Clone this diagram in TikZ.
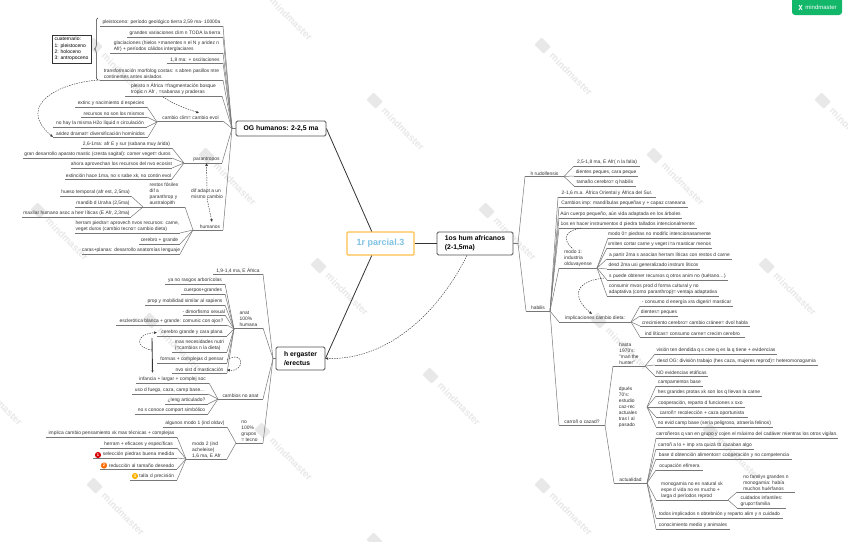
\documentclass[tikz,border=0pt]{standalone}
\usepackage{fontspec}
\setmainfont{Liberation Sans}
\usepackage{xcolor}
\usetikzlibrary{arrows.meta,decorations.pathreplacing}
\definecolor{ink}{HTML}{333333}
\definecolor{linegray}{HTML}{777777}
\definecolor{wmgray}{HTML}{E8E8E8}
\definecolor{brandgreen}{HTML}{12B76A}
\definecolor{rootorange}{HTML}{FFC04D}
\definecolor{rootblue}{HTML}{7FC1E3}
\begin{document}
\begin{tikzpicture}[x=1pt,y=-1pt]
    \tikzset{
      leafl/.style={anchor=south east,inner xsep=0pt,inner ysep=1.2pt,outer sep=0pt,align=left,text=ink,font=\fontsize{4.9}{6}\selectfont,
        append after command={(\tikzlastnode.south west) edge[link] (\tikzlastnode.south east)}},
      leafr/.style={leafl,anchor=south west},
      plain/.style={inner sep=0pt,align=left,text=ink,font=\fontsize{4.9}{6}\selectfont},
      mainbox/.style={rounded corners=1.5pt,draw=ink!85,line width=0.8pt,fill=white,align=left,text=black,font=\fontsize{6.8}{9}\selectfont\bfseries},
      rootbox/.style={rounded corners=1pt,draw=rootorange,line width=1.2pt,fill=white,text=rootblue,font=\fontsize{9}{11}\selectfont\bfseries},
      notebox/.style={draw=ink,line width=0.5pt,fill=white,align=left,inner sep=2.5pt,font=\fontsize{5}{6.2}\selectfont},
      badge/.style={circle,inner sep=0pt,minimum size=6.2pt,text=white,font=\fontsize{4}{4}\selectfont\bfseries},
      link/.style={draw=linegray,line width=0.5pt},
      trunk/.style={draw=ink,line width=0.8pt},
      rel/.style={draw=ink,line width=0.45pt,dash pattern=on 1.4pt off 1.1pt,-{Latex[length=2.8pt,width=2.6pt]}},
      water/.style={rotate=-45,anchor=west,text=wmgray,font=\fontsize{9.8}{10}\selectfont\bfseries}
    }
    \useasboundingbox (0,0) rectangle (848,541);
    \fill[white] (0,0) rectangle (848,541);
    % watermark
    \foreach \wmx/\wmy [count=\wmn] in {33/205,201/150,369/95,537/40,-79/95,89/40,257/-15,145/315,313/260,481/205,649/150,817/95,-33/370,257/425,425/370,593/315,761/260,
      -145/260,369/535,537/480,705/425,89/480} {
      \node[water] (wm\wmn) at (\wmx+12,\wmy+12) {mindmaster};
      \fill[wmgray,rounded corners=1pt,rotate around={-45:(\wmx+6,\wmy+6)}] (\wmx-1,\wmy+1) rectangle (\wmx+12,\wmy+11);
    }
    % logo
    \fill[brandgreen,rounded corners=3pt] (792,-6) rectangle (842,15);
    \node[inner sep=0pt,text=white,font=\fontsize{6}{6}\selectfont] (brand) at (821,7.5) {mindmaster};
    \draw[white,line width=0.8pt] (799,5) -- (802,10) (802,5) -- (799,10);
    % main nodes
    \node[rootbox,minimum width=67pt,minimum height=23pt] (root) at (380.5,243.5) {1r parcial.3};
    \node[mainbox,minimum width=90pt,minimum height=15pt,align=center] (og) at (281,128.5) {OG humanos: 2-2,5 ma};
    \node[mainbox,minimum width=76pt,minimum height=23pt] (afr) at (475,243.5) {1os hum africanos\\(2-1,5ma)};
    \node[mainbox,minimum width=49pt,minimum height=23pt] (erg) at (300.5,358.5) {h ergaster\\/erectus};
    \draw[trunk] (root.126) -- (og.east);
    \draw[trunk] (root.234) -- (erg.east);
    \draw[trunk] (root.east) -- (afr.west);
    \coordinate (ogj) at (232,128.5);
    \coordinate (ergj) at (273,358.5);
    \coordinate (afrj) at (518,243.5);
    \draw[link] (og.west) -- (ogj);
    \draw[link] (erg.west) -- (ergj);
    \draw[link] (afr.east) -- (afrj);
    % OG humanos
    \node[leafl,minimum width=123pt] (pleist) at (223,26) {pleistoceno: período geológico tierra 2,59 ma- 10000a};
    \node[leafl,minimum width=96pt] (clima) at (223,37) {grandes variaciones clim n TODA la tierra};
    \node[leafl,minimum width=113pt] (glaci) at (223,53) {glaciaciones (hielos ×manentes n el N y aridez n\\Afr) + períodos cálidos interglaciares};
    \node[leafl,minimum width=56pt] (oscil) at (223,63) {1,8 ma: + oscilaciones};
    \node[leafl,minimum width=123pt] (costas) at (223,80) {transformación morfolog costas: s abren pasillos ntre\\continentes antes aislados};
    \node[leafl,minimum width=97pt] (tropic) at (222,96) {pleisto n África =fragmentación bosque\\tropic n Afr ,  =sabanas y praderas};
    \node[leafl,minimum width=65pt] (evol) at (223,121) {cambio clim= cambio evol};
    \node[leafl,minimum width=72pt] (extin) at (147,107) {extinc y nacimiento d especies};
    \node[leafl,minimum width=66pt] (recur) at (147,117) {recursos no son los mismos};
    \node[leafl,minimum width=94pt] (agua) at (147,127) {no hay la misma H2o líquid n circulación};
    \node[leafl,minimum width=95pt] (aridez) at (148,137) {aridez dramat= diversificación homínidos};
    \node[leafl,minimum width=31pt] (par) at (222,163) {parantropos};
    \node[leafl,minimum width=91pt] (par1) at (172,148) {2,6-1ma: afr E y sur (sabana muy árida)};
    \node[leafl,minimum width=149pt] (par2) at (172,158) {gran desarrollo aparato mastic (cresta sagital): comer veget= duros};
    \node[leafl,minimum width=101pt] (par3) at (172,168) {ahora aprovechan los recursos del nvo ecosist};
    \node[leafl,minimum width=107pt] (par4) at (172,179) {extinción hace 1ma, no s sabe xk, no contin evol};
    \node[leafl,minimum width=26pt] (hum) at (223,230) {humanos};
    \node[leafl,minimum width=42pt] (restos) at (185,207) {restos fósiles\\dif a\\paranthrop y\\australopith};
    \node[leafl,minimum width=71pt] (hueso) at (131,196) {hueso temporal (afr est, 2,5ma)};
    \node[leafl,minimum width=56pt] (mandib) at (131,207) {mandib d Uraha (2,5ma)};
    \node[leafl,minimum width=109pt] (maxilar) at (131,217) {maxilar humano asoc a herr líticas (E Afr, 2,3ma)};
    \node[leafl,minimum width=105pt] (herram) at (180,233) {herram piedra= aprovech nvos recursos: carne,\\veget duros (cambio tecno= cambio dieta)};
    \node[leafl,minimum width=41pt] (cereb) at (180,244) {cerebro + grande};
    \node[leafl,minimum width=98pt] (caras) at (180,254) {caras+planas: desarrollo anatomías lenguaje};
    \node[plain] (difad) at (207,193.5) {dif adapt a un\\mismo cambio};
    \coordinate (evolj) at (157,122);
    \coordinate (parj) at (184,163);
    \coordinate (humj) at (193,230);
    \coordinate (restj) at (143,207);
    \draw[link] (pleist.south east) -- (ogj);
    \draw[link] (clima.south east) -- (ogj);
    \draw[link] (glaci.south east) -- (ogj);
    \draw[link] (oscil.south east) -- (ogj);
    \draw[link] (costas.south east) -- (ogj);
    \draw[link] (tropic.south east) -- (ogj);
    \draw[link] (evol.south east) -- (ogj);
    \draw[link] (par.south east) -- (ogj);
    \draw[link] (hum.south east) -- (ogj);
    \draw[link] (extin.south east) -- (evolj);
    \draw[link] (recur.south east) -- (evolj);
    \draw[link] (agua.south east) -- (evolj);
    \draw[link] (aridez.south east) -- (evolj);
    \draw[link] (evolj) -- (evol.south west);
    \draw[link] (par1.south east) -- (parj);
    \draw[link] (par2.south east) -- (parj);
    \draw[link] (par3.south east) -- (parj);
    \draw[link] (par4.south east) -- (parj);
    \draw[link] (parj) -- (par.south west);
    \draw[link] (restos.south east) -- (humj);
    \draw[link] (herram.south east) -- (humj);
    \draw[link] (cereb.south east) -- (humj);
    \draw[link] (caras.south east) -- (humj);
    \draw[link] (humj) -- (hum.south west);
    \draw[link] (hueso.south east) -- (restj);
    \draw[link] (mandib.south east) -- (restj);
    \draw[link] (maxilar.south east) -- (restj);
    % ergaster
    \node[leafl,minimum width=50pt] (edad) at (263,274) {1,9-1,4 ma, E África};
    \node[leafl,minimum width=29pt] (anat) at (263,328) {anat\\100\%\\humana};
    \node[leafl,minimum width=60pt] (arbor) at (225,284) {ya no rasgos arborícolas};
    \node[leafl,minimum width=44pt] (cuerpo) at (225,294) {cuerpos+grandes};
    \node[leafl,minimum width=80pt] (prop) at (225,305) {prop y mobilidad similar al sapiens};
    \node[leafl,minimum width=42pt] (dimorf) at (225,315) {- dimorfismo sexual};
    \node[leafl,minimum width=111pt] (escler) at (227,325) {esclerótica blanca + grande: comunic con ojos?};
    \node[leafl,minimum width=70pt] (cerpl) at (227,336) {cerebro grande y cara plana};
    \node[leafl,minimum width=55pt] (nutri) at (227,352) {mas necesidades nutri\\(=cambios n la dieta)};
    \node[leafl,minimum width=70pt] (formas) at (227,363) {formas + complejas d pensar};
    \node[leafl,minimum width=55pt] (mastic) at (227,373) {nvo sist d masticación};
    \node[leafl,minimum width=45pt] (noanat) at (263,399) {cambios no anat};
    \node[leafl,minimum width=73pt] (infan) at (209,383) {infancia + largar + complej soc};
    \node[leafl,minimum width=76pt] (fuego) at (208,394) {uso d fuego, caza, camp base…};
    \node[leafl,minimum width=43pt] (leng) at (208,404) {¿leng articulado?};
    \node[leafl,minimum width=73pt] (simbol) at (208,414) {no s conoce comport simbólico};
    \node[leafl,minimum width=27pt] (tecno) at (263,443) {no\\100\%\\grupos\\= tecno};
    \node[leafl,minimum width=64pt] (modoa) at (227,427) {algunos modo 1 (ind olduv)};
    \node[leafl,minimum width=41pt] (modob) at (227,459) {modo 2 (ind\\acheleise)\\1,6 ma, E Afr};
    \node[leafl,minimum width=131pt] (pensa) at (177,437) {implica cambio pensamiento xk mas técnicas + complejas};
    \node[leafl,minimum width=77pt] (efic) at (177,448) {herram + eficaces y específicas};
    \node[leafl,text width=84pt,align=right] (selec) at (177,458) {selección piedras buena medida\hspace*{3pt}};
    \node[leafl,text width=77pt,align=right] (reduc) at (177,469) {reducción al tamaño deseado\hspace*{3pt}};
    \node[leafl,text width=47pt,align=right] (talla) at (177,480) {talla d precisión\hspace*{3pt}};
    \node[badge,fill=red!85!black] (uno) at (98,455) {1};
    \node[badge,fill=orange!85!red] (dos) at (104,465.5) {2};
    \node[badge,fill=orange!60!yellow] (tres) at (135,476) {3};
    \coordinate (anatj) at (234,329);
    \coordinate (noaj) at (218,399);
    \coordinate (tecj) at (236,443);
    \coordinate (modj) at (186,459);
    \draw[link] (edad.south east) -- (ergj);
    \draw[link] (anat.south east) -- (ergj);
    \draw[link] (noanat.south east) -- (ergj);
    \draw[link] (tecno.south east) -- (ergj);
    \draw[link] (arbor.south east) -- (anatj);
    \draw[link] (cuerpo.south east) -- (anatj);
    \draw[link] (prop.south east) -- (anatj);
    \draw[link] (dimorf.south east) -- (anatj);
    \draw[link] (escler.south east) -- (anatj);
    \draw[link] (cerpl.south east) -- (anatj);
    \draw[link] (nutri.south east) -- (anatj);
    \draw[link] (formas.south east) -- (anatj);
    \draw[link] (mastic.south east) -- (anatj);
    \draw[link] (infan.south east) -- (noaj);
    \draw[link] (fuego.south east) -- (noaj);
    \draw[link] (leng.south east) -- (noaj);
    \draw[link] (simbol.south east) -- (noaj);
    \draw[link] (modoa.south east) -- (tecj);
    \draw[link] (modob.south east) -- (tecj);
    \draw[link] (pensa.south east) -- (modj);
    \draw[link] (efic.south east) -- (modj);
    \draw[link] (selec.south east) -- (modj);
    \draw[link] (reduc.south east) -- (modj);
    \draw[link] (talla.south east) -- (modj);
    \draw[link] (noaj) -- (noanat.south west);
    \draw[link] (anatj) -- (anat.south west);
    \draw[link] (tecj) -- (tecno.south west);
    \draw[link] (modj) -- (modob.south west);
    % africanos
    \node[leafr,minimum width=39pt] (rudol) at (525,176.5) {h rudolfensis};
    \node[leafr,minimum width=66pt] (rud1) at (574,166) {2,5-1,8 ma, E Afr( n la falla)};
    \node[leafr,minimum width=64pt] (rud2) at (574,176) {dientes peques, cara peque};
    \node[leafr,minimum width=62pt] (rud3) at (574,186) {tamaño cerebro= q habilis};
    \node[leafr,minimum width=24pt] (habil) at (526,311) {habilis};
    \node[leafr,minimum width=98pt] (hab1) at (558,197) {2-1,6 m.a. África Oriental y África del Sur.};
    \node[leafr,minimum width=129pt] (hab2) at (559,207) {Cambios imp: mandíbulas pequeñas y + capaz craneana};
    \node[leafr,minimum width=123pt] (hab3) at (559,218) {Aún cuerpo pequeño, aún vida adaptada en los árboles};
    \node[leafr,minimum width=138pt] (hab4) at (559,228) {1os en hacer instrumentos d piedra tallados intencionalmente:};
    \node[leafr,minimum width=38pt] (modouno) at (559,268) {modo 1:\\industria\\olduvayense};
    \node[leafr,minimum width=102pt] (mod1) at (608,238) {modo 0= piedras no modific intencionasamente};
    \node[leafr,minimum width=105pt] (mod2) at (607,248) {xmiten cortar carne y veget i=a masticar menos};
    \node[leafr,minimum width=125pt] (mod3) at (607,259) {a partir 2ma s asocian herram líticas con restos d carne};
    \node[leafr,minimum width=93pt] (mod4) at (607,269) {desd 2ma usi generalizado instrum líticos};
    \node[leafr,minimum width=121pt] (mod5) at (607,280) {s puede obtener recursos q otros anim no (tuétano…)};
    \node[leafr,minimum width=112pt] (mod6) at (607,296) {consumir mvos prod d forma cultural y no\\adaptativa (como paranthrop)= ventaja adaptativa};
    \node[leafr,minimum width=72pt] (impli) at (559,322) {implicaciones cambio dieta:};
    \node[leafr,minimum width=93pt] (imp1) at (640,306) {- consumo d energía xra digerir/ masticar};
    \node[leafr,minimum width=38pt] (imp2) at (640,316) {dientes= peques};
    \node[leafr,minimum width=110pt] (imp3) at (640,326) {crecimiento cerebro= cambio cránee= dvol habla};
    \node[leafr,minimum width=105pt] (imp4) at (640,337) {ind líticas= consumo carne= crecim cerebro};
    \node[leafr,minimum width=46pt] (carro) at (559,425) {carroñ o cazad?};
    \node[leafr,minimum width=32pt] (hunter) at (613,366) {hasta\\1970's:\\"man the\\hunter"};
    \node[leafr,minimum width=122pt] (hun1) at (655,354) {visión ten dendida q s cree q es la q tiene + evidencias};
    \node[leafr,minimum width=163pt] (hun2) at (655,365) {desd OG: división trabajo (hes caza, mujeres reprod)= heteromonogamia};
    \node[leafr,minimum width=53pt] (hun3) at (655,376) {NO evidencias etáficas};
    \node[plain] (dpues) at (628,407) {dpués\\70's:\\estudio\\caz-rec\\actuales\\tras l al\\pasado};
    \node[leafr,minimum width=47pt] (dp1) at (656,386) {campamentos base};
    \node[leafr,minimum width=106pt] (dp2) at (656,396) {hes grandes protas xk son los q llevan la carne};
    \node[leafr,minimum width=89pt] (dp3) at (656,407) {cooperación, reparto d funciones x sxo};
    \node[leafr,minimum width=92pt] (dp4) at (656,417) {carroñ= recolección + caza oportunista};
    \node[leafr,minimum width=117pt] (dp5) at (656,427) {no evid camp base (sería peligroso, atraería felinos)};
    \node[leafr,minimum width=33pt] (actual) at (614,483) {actualidad};
    \node[leafr,minimum width=182pt] (act1) at (656,438) {carroñeros q van en grupo y cojen el máximo del cadáver mientras los otros vigilan.};
    \node[leafr,minimum width=98pt] (act2) at (656,449) {carroñ a lo + imp xra quizá tb cazaban algo};
    \node[leafr,minimum width=136pt] (act3) at (656,459) {base d obtención alimentos= cooperación y no competencia};
    \node[leafr,minimum width=47pt] (act4) at (656,470) {ocupación efímera};
    \node[leafr,minimum width=72pt] (mono) at (656,500) {monogamia no es natural xk\\espe d vida no es mucho +\\larga d períodos reprod};
    \node[leafr,minimum width=58pt] (mono1) at (737,492) {no familys grandes n\\monogamia: había\\muchos huérfanos};
    \node[leafr,minimum width=49pt] (mono2) at (737,508) {cuidados infantiles:\\grupo=familia};
    \node[leafr,minimum width=127pt] (act5) at (656,518) {todos implicados n obtebnión y reparto alim y n cuidado};
    \node[leafr,minimum width=74pt] (act6) at (656,529) {conocimiento medio y animales};
    \coordinate (habj) at (550,311);
    \coordinate (modj1) at (597,268);
    \coordinate (impj) at (631,322);
    \coordinate (carj) at (605,425);
    \coordinate (hunj) at (645,366);
    \coordinate (dpj) at (647,407);
    \coordinate (actj) at (647,483);
    \coordinate (monoj) at (728,500);
    \draw[link] (afrj) -- (rudol.south west);
    \draw[link] (afrj) -- (habil.south west);
    \draw[link] (rudol.south east) -- (rud1.south west);
    \draw[link] (rudol.south east) -- (rud2.south west);
    \draw[link] (rudol.south east) -- (rud3.south west);
    \draw[link] (habj) -- (hab1.south west);
    \draw[link] (habj) -- (hab2.south west);
    \draw[link] (habj) -- (hab3.south west);
    \draw[link] (habj) -- (hab4.south west);
    \draw[link] (habj) -- (modouno.south west);
    \draw[link] (habj) -- (impli.south west);
    \draw[link] (habj) -- (carro.south west);
    \draw[link] (modj1) -- (mod1.south west);
    \draw[link] (modj1) -- (mod2.south west);
    \draw[link] (modj1) -- (mod3.south west);
    \draw[link] (modj1) -- (mod4.south west);
    \draw[link] (modj1) -- (mod5.south west);
    \draw[link] (modj1) -- (mod6.south west);
    \draw[link] (impj) -- (imp1.south west);
    \draw[link] (impj) -- (imp2.south west);
    \draw[link] (impj) -- (imp3.south west);
    \draw[link] (impj) -- (imp4.south west);
    \draw[link] (carj) -- (hunter.south west);
    \draw[link] (carj) -- (actual.south west);
    \draw[link] (hunj) -- (hun1.south west);
    \draw[link] (hunj) -- (hun2.south west);
    \draw[link] (hunj) -- (hun3.south west);
    \draw[link] (dpj) -- (dp1.south west);
    \draw[link] (dpj) -- (dp2.south west);
    \draw[link] (dpj) -- (dp3.south west);
    \draw[link] (dpj) -- (dp4.south west);
    \draw[link] (dpj) -- (dp5.south west);
    \draw[link] (actj) -- (act1.south west);
    \draw[link] (actj) -- (act2.south west);
    \draw[link] (actj) -- (act3.south west);
    \draw[link] (actj) -- (act4.south west);
    \draw[link] (actj) -- (mono.south west);
    \draw[link] (actj) -- (act5.south west);
    \draw[link] (actj) -- (act6.south west);
    \draw[link] (monoj) -- (mono1.south west);
    \draw[link] (monoj) -- (mono2.south west);
    % callouts
    \node[notebox] (cuat) at (71.5,49) {cuaternario:\\1: pleistoceno\\2: holoceno\\3: antropoceno};
    \coordinate (brtop) at (98,18);
    \coordinate (brbot) at (98,80);
    \draw[link,draw=ink,decorate,decoration={brace,amplitude=3.5pt}] (brbot) -- (brtop);
    \draw[rel] (costas.south west) .. controls (60,82) and (15,105) .. (aridez.south west);
    \draw[rel] (163,97) .. controls (175,105) and (185,108) .. (199,113);
    \draw[rel] (difad.north) -- (par.south);
    \draw[rel] (difad.south) -- (212,222);
    \draw[rel] (152,350) .. controls (135,348) and (135,334) .. (cerpl.west);
    \draw[draw=ink,line width=0.9pt,-{Latex[length=2.6pt,width=2.4pt]}] (152,338) -- (152.5,373);
    \draw[rel] (formas.east) .. controls (245,350) and (245,372) .. (mastic.east);
    \draw[draw=ink,line width=0.45pt,dash pattern=on 1.4pt off 1.1pt] (581,228) .. controls (560,232) and (565,242) .. (573,249);
    \draw[rel] (604,278) .. controls (570,282) and (575,300) .. (592,314);
    \draw[rel] (afr.south) ++(-8,0) .. controls (440,310) and (390,360) .. (erg.east);
\end{tikzpicture}
\end{document}
